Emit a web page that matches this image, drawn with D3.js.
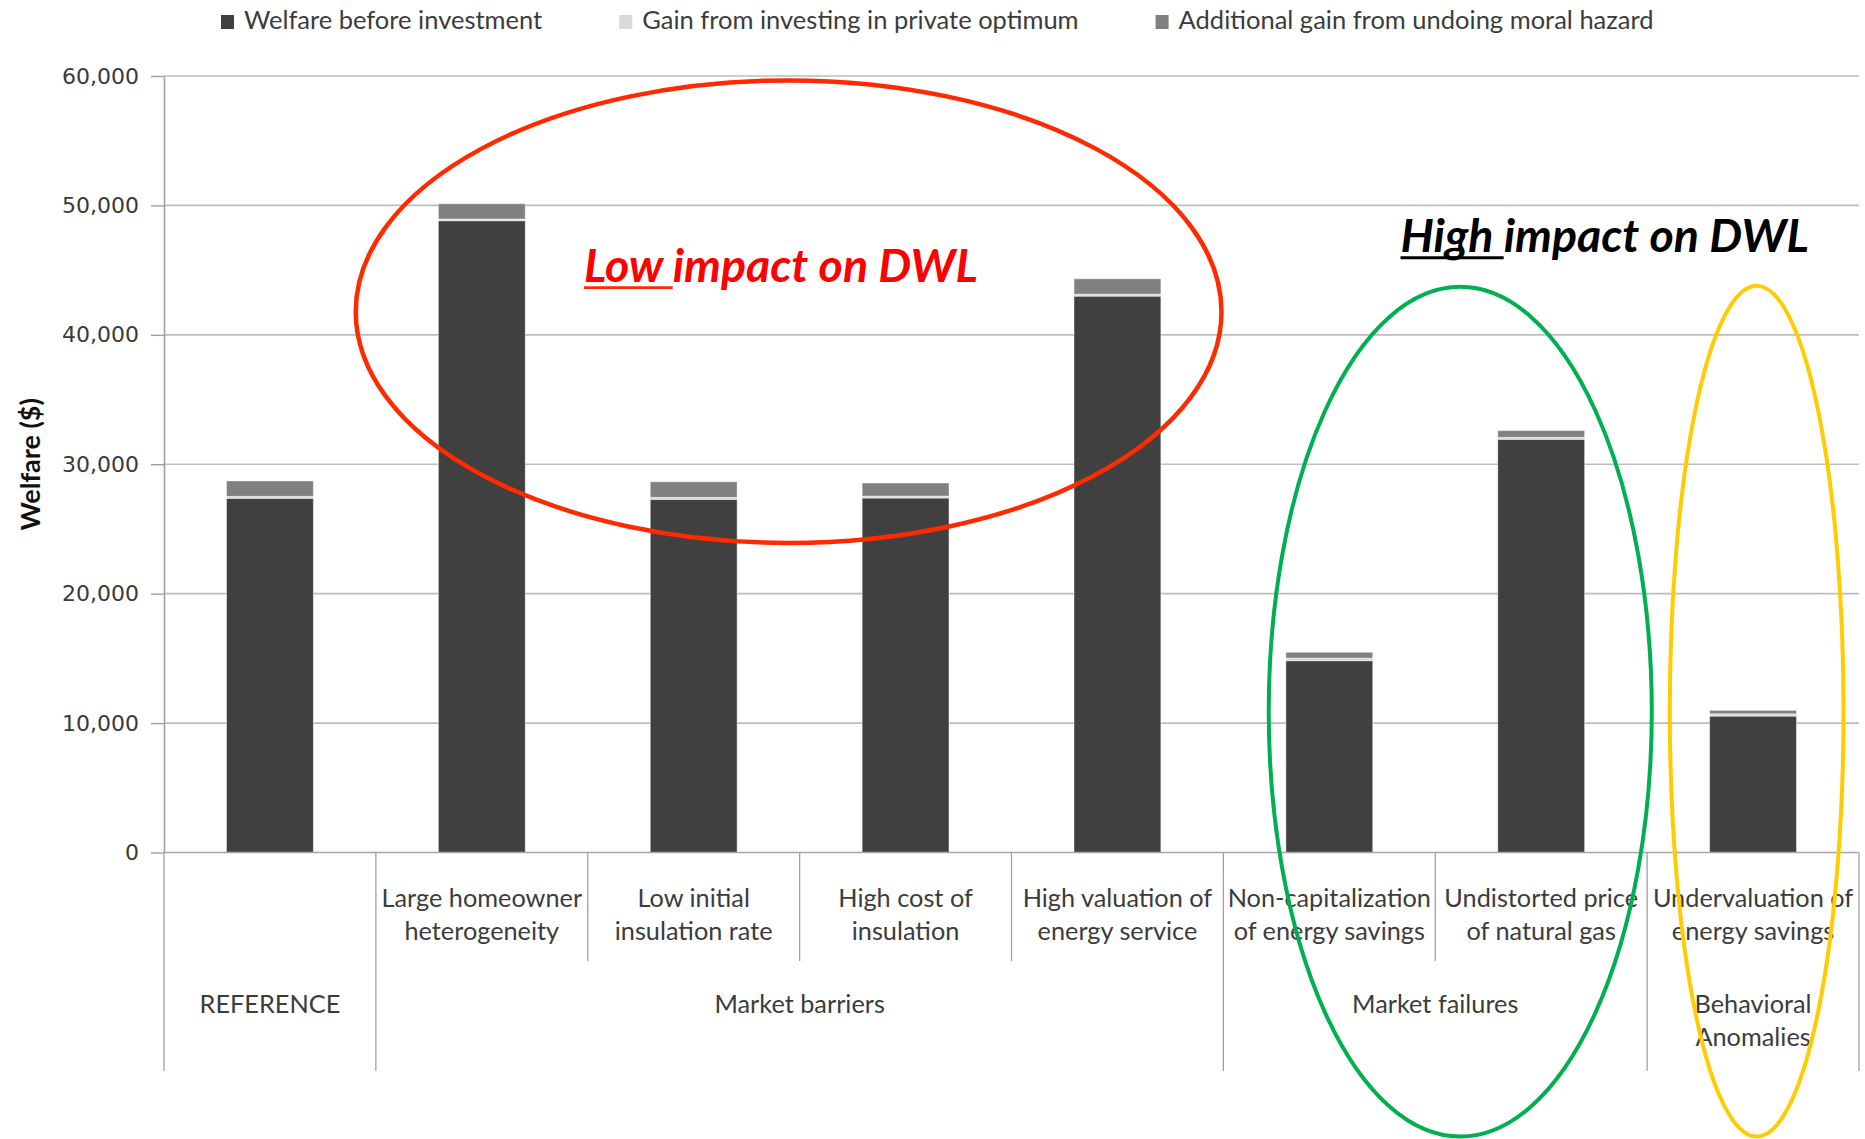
<!DOCTYPE html>
<html>
<head>
<meta charset="utf-8">
<script src="https://cdn.jsdelivr.net/npm/d3@7"></script>
<style>
  html, body { margin: 0; padding: 0; background: #fff; }
  svg { display: block; }
</style>
</head>
<body>
<svg id="chart" width="1865" height="1139"></svg>
<script>
// ---- data ----
const scenarioLabels = [
  [],
  ["Large homeowner", "heterogeneity"],
  ["Low initial", "insulation rate"],
  ["High cost of", "insulation"],
  ["High valuation of", "energy service"],
  ["Non-capitalization", "of energy savings"],
  ["Undistorted price", "of natural gas"],
  ["Undervaluation of", "energy savings"]
];
const groupLabels = [["REFERENCE"], ["Market barriers"], ["Market failures"], ["Behavioral", "Anomalies"]];
const groupSizes = [1, 4, 2, 1];

const seriesNames = [
  "Welfare before investment",
  "Gain from investing in private optimum",
  "Additional gain from undoing moral hazard"
];
const welfareBefore   = [27370, 48820, 27290, 27390, 42990, 14820, 31930, 10540];
const gainPrivate     = [150, 130, 150, 150, 150, 200, 150, 180];
const gainMoralHazard = [1190, 1180, 1210, 1010, 1190, 450, 520, 260];

const yTicks = [0, 10000, 20000, 30000, 40000, 50000, 60000];
const yTitle = "Welfare ($)";

// ---- setup ----
const svg = d3.select("#chart");
const W = 1865, H = 1139;
const plot = { left: 164, right: 1859, top: 76, bottom: 852.5 };
const seriesColors = ["#404040", "#d9d9d9", "#808080"];
const labelFont = "Lato, 'Open Sans', sans-serif";

svg.append("rect").attr("width", W).attr("height", H).attr("fill", "#fff");

const rows = welfareBefore.map((v, i) => ({
  idx: i, before: v, gain: gainPrivate[i], extra: gainMoralHazard[i]
}));
const keys = ["before", "gain", "extra"];
const stacked = d3.stack().keys(keys)(rows);

const x = d3.scaleBand()
  .domain(d3.range(rows.length))
  .range([plot.left, plot.right])
  .paddingInner(0.59)
  .paddingOuter(0.295);
const y = d3.scaleLinear().domain([0, 60000]).range([plot.bottom, plot.top]);
const boundary = i => plot.left + i * x.step();

// gridlines
svg.append("g")
  .selectAll("line")
  .data(yTicks.filter(d => d > 0))
  .join("line")
  .attr("x1", plot.left).attr("x2", plot.right)
  .attr("y1", d => y(d)).attr("y2", d => y(d))
  .attr("stroke", "#bdbdbd").attr("stroke-width", 1.6);

// y axis
const yAxis = svg.append("g")
  .attr("transform", `translate(${plot.left},0)`)
  .call(d3.axisLeft(y).tickValues(yTicks).tickFormat(d3.format(","))
    .tickSize(13).tickSizeOuter(0).tickPadding(12));
yAxis.select(".domain").attr("stroke", "#a0a0a0").attr("stroke-width", 1.6);
yAxis.selectAll(".tick line").attr("stroke", "#a0a0a0").attr("stroke-width", 1.4);
yAxis.selectAll(".tick text")
  .attr("font-family", "'DejaVu Sans', Verdana, sans-serif")
  .attr("font-size", 22).attr("fill", "#3a3a3a");

// y title
svg.append("text")
  .attr("transform", `translate(29,${y(30000)})rotate(-90)`)
  .attr("text-anchor", "middle")
  .attr("dominant-baseline", "central")
  .attr("font-family", labelFont).attr("font-weight", 700)
  .attr("font-size", 27).attr("fill", "#111")
  .text(yTitle);

// stacked bars
svg.append("g")
  .selectAll("g")
  .data(stacked)
  .join("g")
  .attr("fill", (d, i) => seriesColors[i])
  .selectAll("rect")
  .data(d => d)
  .join("rect")
  .attr("x", d => x(d.data.idx))
  .attr("width", x.bandwidth())
  .attr("y", d => y(d[1]))
  .attr("height", d => y(d[0]) - y(d[1]))
  .attr("stroke", "rgba(255,255,255,0.45)")
  .attr("stroke-width", 1);

// category axis (two levels)
const axisG = svg.append("g");
axisG.append("line")
  .attr("x1", plot.left).attr("x2", plot.right)
  .attr("y1", plot.bottom).attr("y2", plot.bottom)
  .attr("stroke", "#a6a6a6").attr("stroke-width", 1.6);

const groupEdges = [0];
groupSizes.forEach(s => groupEdges.push(groupEdges[groupEdges.length - 1] + s));
axisG.selectAll("line.sep")
  .data(d3.range(rows.length + 1))
  .join("line")
  .attr("class", "sep")
  .attr("x1", i => boundary(i)).attr("x2", i => boundary(i))
  .attr("y1", plot.bottom)
  .attr("y2", i => groupEdges.includes(i) ? 1071 : 961)
  .attr("stroke", "#a0a0a0").attr("stroke-width", 1.3);

axisG.selectAll("text.sub")
  .data(scenarioLabels)
  .join("text")
  .attr("class", "sub")
  .attr("text-anchor", "middle")
  .attr("font-family", labelFont).attr("font-size", 25.3).attr("fill", "#3c3c3c")
  .each(function (lines, i) {
    d3.select(this).selectAll("tspan").data(lines).join("tspan")
      .attr("x", x(i) + x.bandwidth() / 2)
      .attr("y", (d, k) => 907 + k * 33)
      .text(d => d);
  });

axisG.selectAll("text.grp")
  .data(groupLabels)
  .join("text")
  .attr("class", "grp")
  .attr("text-anchor", "middle")
  .attr("font-family", labelFont).attr("font-size", 25.3).attr("fill", "#3c3c3c")
  .each(function (lines, g) {
    const cx = (boundary(groupEdges[g]) + boundary(groupEdges[g + 1])) / 2;
    d3.select(this).selectAll("tspan").data(lines).join("tspan")
      .attr("x", cx)
      .attr("y", (d, k) => 1013 + k * 33)
      .text(d => d);
  });

// legend
const legend = svg.append("g");
let lx = 221;
seriesNames.forEach((name, i) => {
  legend.append("rect")
    .attr("x", lx).attr("y", 15).attr("width", 13).attr("height", 14)
    .attr("fill", seriesColors[i]);
  const t = legend.append("text")
    .attr("x", lx + 23).attr("y", 29)
    .attr("font-family", labelFont).attr("font-size", 25.5).attr("fill", "#3c3c3c")
    .text(name);
  lx += 23 + t.node().getComputedTextLength() + 77;
});

// annotations: highlight ellipses (category-step units horizontally, values vertically)
const ann = svg.append("g").attr("fill", "none");
const ellipses = [
  { cx: 2.948, cy: 41790, rx: 2.043, ry: 17870, color: "#ff2a00", w: 4.5 },
  { cx: 6.118, cy: 10880, rx: 0.904, ry: 32830, color: "#00b050", w: 4 },
  { cx: 7.517, cy: 10920, rx: 0.41, ry: 32870, color: "#ffcc00", w: 4 }
];
ann.selectAll("ellipse")
  .data(ellipses)
  .join("ellipse")
  .attr("cx", d => boundary(d.cx))
  .attr("cy", d => y(d.cy))
  .attr("rx", d => d.rx * x.step())
  .attr("ry", d => y(0) - y(d.ry))
  .attr("stroke", d => d.color)
  .attr("stroke-width", d => d.w);

function callout(text, underlined, at, value, color, lineColor) {
  const t = svg.append("text")
    .attr("x", boundary(at)).attr("y", y(value))
    .attr("font-family", labelFont).attr("font-weight", 700).attr("font-style", "italic")
    .attr("font-size", 46.5).attr("fill", color);
  t.append("tspan").text(underlined);
  t.append("tspan").text(text);
  const ulen = t.node().getSubStringLength(0, underlined.length);
  svg.append("line")
    .attr("x1", boundary(at)).attr("x2", boundary(at) + ulen)
    .attr("y1", y(value) + 6).attr("y2", y(value) + 6)
    .attr("stroke", lineColor).attr("stroke-width", 2.8);
}
callout("impact on DWL", "Low ", 1.982, 44110, "#ff0000", "#ff2a00");
callout("impact on DWL", "High ", 5.836, 46420, "#000000", "#000000");
</script>
</body>
</html>
